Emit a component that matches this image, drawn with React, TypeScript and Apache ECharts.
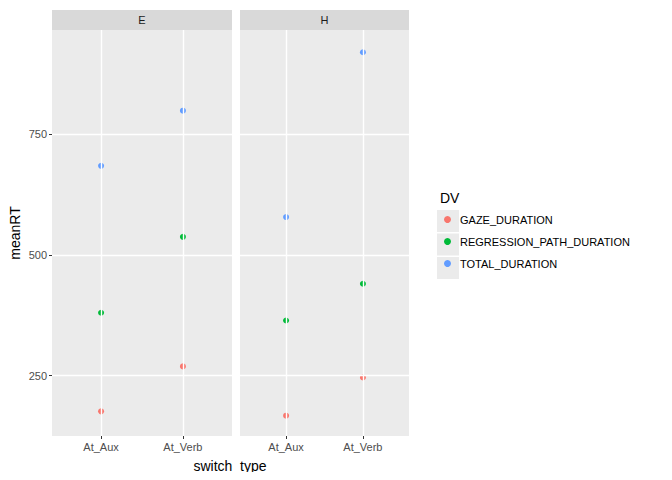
import React, { useEffect, useRef } from 'react';
import * as echarts from 'echarts';

const panels = ['E', 'H'];
const categories = ['At_Aux', 'At_Verb'];
const dvNames = ['GAZE_DURATION', 'REGRESSION_PATH_DURATION', 'TOTAL_DURATION'];
const colors = ['#F8766D', '#00BA38', '#619CFF'];
// values[panel][dv] = [At_Aux, At_Verb]
const valuesE = [[176, 269], [380, 537], [684, 798]];
const valuesH = [[167, 246], [364, 440], [578, 919]];
const majorY = [250, 500, 750];

// page has an 8px body margin, so positions are shifted by -8
const grids = [
  { left: 44, top: 22, width: 180, height: 406 },
  { left: 232, top: 22, width: 169, height: 406 },
];

const App = () => {
  const ref = useRef<HTMLDivElement>(null);
  useEffect(() => {
    if (!ref.current) return;
    const chart = echarts.init(ref.current, null, { renderer: 'svg' });
    const all = [valuesE, valuesH];
    const series: any[] = [];
    all.forEach((vals, gi) => {
      vals.forEach((v, di) => {
        series.push({
          type: 'scatter', name: dvNames[di], xAxisIndex: gi, yAxisIndex: gi,
          symbolSize: 6, itemStyle: { color: colors[di], opacity: 1 },
          data: v.map((y, ci) => [ci + 1, y]),
          markLine: di === 0 ? {
            silent: true, symbol: 'none', label: { show: false },
            lineStyle: { color: '#fff', width: 1.4, type: 'solid' },
            data: [
              ...categories.map((_, ci) => ({ xAxis: ci + 1 })),
              ...majorY.map((y) => ({ yAxis: y })),
            ],
          } : undefined,
        });
      });
    });
    const xAxis = grids.map((_, gi) => ({
      type: 'value', gridIndex: gi, min: 0.4, max: 2.6, interval: 0.2,
      splitLine: { show: false },
      axisLine: { show: false },
      axisTick: { show: true, customValues: [1, 2], length: 3, lineStyle: { color: '#333' } },
      axisLabel: { customValues: [1, 2], formatter: (v: number) => categories[Math.round(v) - 1] ?? '', color: '#4d4d4d', fontSize: 11, margin: 5 },
    }));
    const yAxis = grids.map((_, gi) => ({
      type: 'value', gridIndex: gi, min: 125, max: 965, interval: 125,
      splitLine: { lineStyle: { color: '#fff', width: 0.7 } },
      axisLine: { show: false },
      axisTick: { show: gi === 0, customValues: majorY, length: 3, lineStyle: { color: '#333' } },
      axisLabel: { show: gi === 0, customValues: majorY, formatter: (v: number) => String(v), color: '#4d4d4d', fontSize: 11, margin: 5 },
    }));
    const graphic: any[] = [];
    grids.forEach((g, gi) => {
      graphic.push({ type: 'rect', shape: { x: g.left, y: 2, width: g.width, height: 20 }, style: { fill: '#d9d9d9' } });
      graphic.push({ type: 'text', x: g.left + g.width / 2, y: 12, style: { text: panels[gi], fill: '#1a1a1a', fontSize: 11, align: 'center', verticalAlign: 'middle' } });
    });
    graphic.push({ type: 'text', x: 222, y: 458, style: { text: 'switch_type', fontSize: 14, fill: '#000', align: 'center', verticalAlign: 'middle' } });
    graphic.push({ type: 'text', x: 7, y: 225, rotation: Math.PI / 2, style: { text: 'meanRT', fontSize: 14, fill: '#000', align: 'center', verticalAlign: 'middle' } });
    graphic.push({ type: 'text', x: 432, y: 190, style: { text: 'DV', fontSize: 14, fill: '#000', verticalAlign: 'middle' } });
    dvNames.forEach((_, i) => {
      graphic.push({ type: 'rect', z: -1, shape: { x: 429, y: 202 + i * 23.5, width: 22, height: 22 }, style: { fill: '#ebebeb' } });
    });
    chart.setOption({
      animation: false,
      textStyle: { fontFamily: 'Liberation Sans, Arial, sans-serif' },
      grid: grids.map((g) => ({ ...g, show: true, backgroundColor: '#ebebeb', borderWidth: 0 })),
      xAxis, yAxis, series, graphic,
      legend: {
        data: dvNames, orient: 'vertical', left: 436, top: 206, icon: 'circle', padding: 0,
        itemWidth: 7, itemHeight: 7, itemGap: 11, textStyle: { fontSize: 11, color: '#000', padding: [0, 0, 0, 4] },
      },
    });
    return () => chart.dispose();
  }, []);
  return <div ref={ref} style={{ width: 656, height: 464 }} />;
};

export default App;
